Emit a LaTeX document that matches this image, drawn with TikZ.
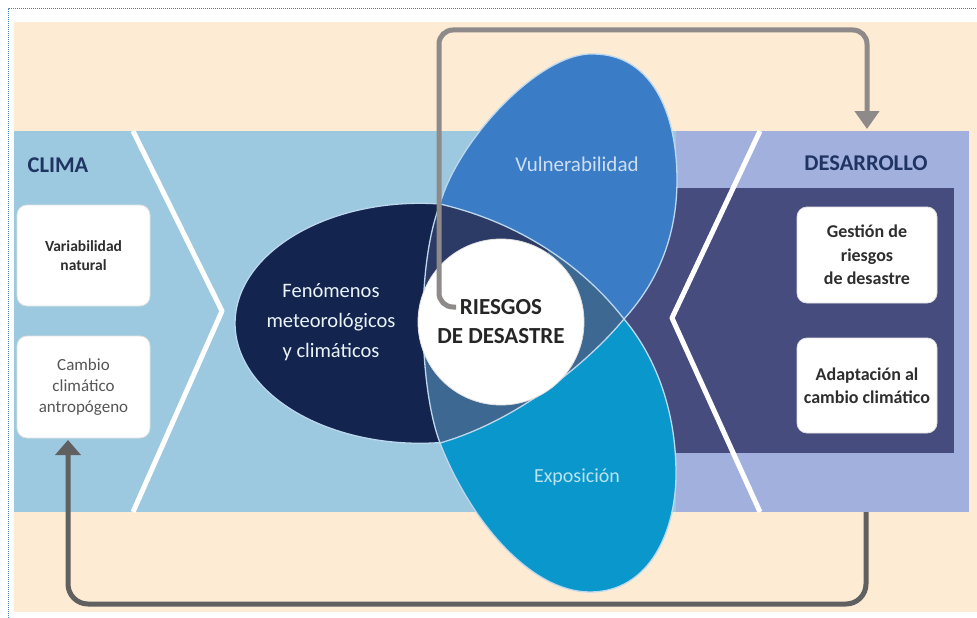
\documentclass[tikz,border=0pt]{standalone}
\usepackage{fontspec}
\setmainfont{Carlito}
\usetikzlibrary{arrows.meta}
\definecolor{cream}{HTML}{FDEBD3}
\definecolor{lblue}{HTML}{9CC9E0}
\definecolor{lav}{HTML}{A2B0DE}
\definecolor{darkrect}{HTML}{474C7E}
\definecolor{navy}{HTML}{13254F}
\definecolor{vuln}{HTML}{3B7CC7}
\definecolor{expo}{HTML}{0A97CB}
\definecolor{steel}{HTML}{3D6892}
\definecolor{dgray}{HTML}{2C3A66}
\definecolor{edgec}{HTML}{BCD8EE}
\definecolor{bordercol}{HTML}{4A7FC0}
\definecolor{arrtop}{HTML}{8E8A8A}
\definecolor{arrbot}{HTML}{606060}
\definecolor{titlec}{HTML}{1F3462}
\definecolor{boxtext}{HTML}{2E2E2E}
\definecolor{boxtextb}{HTML}{555555}
\tikzset{
  edge/.style={draw=edgec, line width=1.3pt},
  whiteline/.style={draw=white, line width=5pt, line join=round},
  infobox/.style={fill=white, draw=black!12, line width=0.8pt, rounded corners=10pt, align=center, inner sep=2pt},
  toparrow/.style={draw=arrtop, line width=5pt, rounded corners=14pt, -{Triangle[length=18pt,width=24pt]}},
  botarrow/.style={draw=arrbot, line width=5pt, rounded corners=20pt, -{Triangle[length=15pt,width=25pt]}},
}
\begin{document}
\begin{tikzpicture}[x=1pt,y=-1pt]
\useasboundingbox (0,0) rectangle (977,618);
\fill[white] (0,0) rectangle (977,618);
% background
\fill[cream] (14,22) rectangle (977,612);
\fill[lblue] (14,131) rectangle (676,512);
\fill[lav] (676,131) rectangle (969,512);
\fill[darkrect] (620,188) rectangle (954,453);
\draw[bordercol, densely dotted, line width=1pt] (8,618) -- (8,9) -- (977,9);
% chevrons
\draw[whiteline] (133,131) -- (222,311) -- (133,512);
\draw[whiteline] (760,131) -- (672,318) -- (760,512);
% titles
\node[font=\fontsize{22.5}{24}\selectfont\bfseries, text=titlec] (clima) at (58,165) {CLIMA};
\node[font=\fontsize{22.5}{24}\selectfont\bfseries, text=titlec] (desarrollo) at (866,163) {DESARROLLO};
% boxes
\node[infobox, minimum width=133pt, minimum height=101pt, font=\fontsize{15.5}{19}\selectfont\bfseries, text=boxtext] (var) at (83.5,255.5) {Variabilidad\\natural};
\node[infobox, minimum width=133pt, minimum height=102pt, font=\fontsize{17}{21}\selectfont, text=boxtextb] (camb) at (83.5,387) {Cambio\\climático\\antropógeno};
\node[infobox, minimum width=140pt, minimum height=96pt, font=\fontsize{18}{23.5}\selectfont\bfseries, text=boxtext] (gest) at (867,255) {Gestión de\\riesgos\\de desastre};
\node[infobox, minimum width=140pt, minimum height=95pt, font=\fontsize{18}{23}\selectfont\bfseries, text=boxtext] (adap) at (867,385.5) {Adaptación al\\cambio climático};
% petals: fenomenos (navy)
\fill[navy] (440,204) arc[start angle=-83.8, end angle=-276.2, x radius=185, y radius=120]
  .. controls (420,390) and (415,270) .. (440,204) -- cycle;
% vulnerabilidad
\fill[vuln] (440,204) .. controls (458,140) and (540,52) .. (593,54)
  .. controls (650,54) and (677,110) .. (677,180)
  .. controls (677,240) and (655,285) .. (624,319)
  .. controls (590,275) and (530,225) .. (440,204) -- cycle;
% exposicion
\fill[expo] (624,319) .. controls (590,360) and (520,420) .. (440,443)
  .. controls (470,520) and (530,592) .. (590,592)
  .. controls (650,592) and (677,530) .. (676,470)
  .. controls (675,400) and (650,350) .. (624,319) -- cycle;
% central overlap
\fill[steel] (440,204) .. controls (530,225) and (590,275) .. (624,319)
  .. controls (590,360) and (520,420) .. (440,443)
  .. controls (420,390) and (415,270) .. (440,204) -- cycle;
\begin{scope}
\clip (400,180) rectangle (548,330);
\fill[dgray] (440,204) .. controls (530,225) and (590,275) .. (624,319)
  .. controls (590,360) and (520,420) .. (440,443)
  .. controls (420,390) and (415,270) .. (440,204) -- cycle;
\end{scope}
% outlines
\draw[edge] (440,204) arc[start angle=-83.8, end angle=-276.2, x radius=185, y radius=120];
\draw[edge] (440,443) .. controls (420,390) and (415,270) .. (440,204)
  .. controls (458,140) and (540,52) .. (593,54)
  .. controls (650,54) and (677,110) .. (677,180)
  .. controls (677,240) and (655,285) .. (624,319);
\draw[edge] (440,204) .. controls (530,225) and (590,275) .. (624,319);
\draw[edge] (624,319) .. controls (590,360) and (520,420) .. (440,443)
  .. controls (470,520) and (530,592) .. (590,592)
  .. controls (650,592) and (677,530) .. (676,470)
  .. controls (675,400) and (650,350) .. (624,319);
% petal labels
\node[font=\fontsize{20.5}{30}\selectfont, text=white!80!lblue, align=center] (fen) at (331,322) {Fenómenos\\meteorológicos\\y climáticos};
\node[font=\fontsize{21}{22}\selectfont, text=white!75!vuln] (vul) at (577,164) {Vulnerabilidad};
\node[font=\fontsize{20}{22}\selectfont, text=white!72!expo] (exp) at (577,477) {Exposición};
% center
\node[circle, fill=white, draw=black!12, line width=0.8pt, minimum size=166pt, inner sep=0pt, align=center, font=\fontsize{23}{29}\selectfont\bfseries, text=black!85] (risk) at (501,322) {RIESGOS\\DE DESASTRE};
% arrows
\coordinate (arrstart) at (456,307);
\coordinate (devtop) at (867,129);
\coordinate (devbot) at (866,512);
\coordinate (climbot) at (68,440);
\draw[toparrow] (arrstart) -- (439,307) -- (439,30) -- (867,30) -- (devtop);
\draw[botarrow] (devbot) -- (866,604) -- (68,604) -- (climbot);
\end{tikzpicture}
\end{document}
